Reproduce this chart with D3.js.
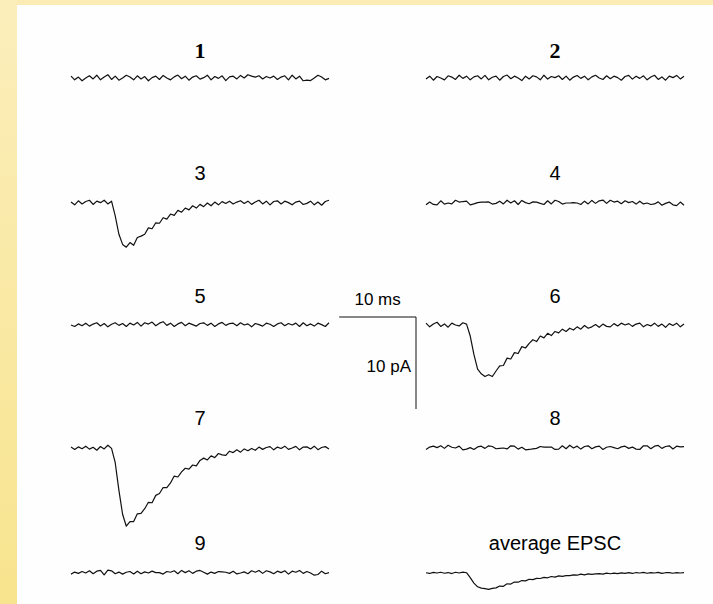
<!DOCTYPE html>
<html>
<head>
<meta charset="utf-8">
<script src="https://cdn.jsdelivr.net/npm/d3@7"></script>
<style>
  body { margin: 0; background: #fff; }
  svg { display: block; }
</style>
</head>
<body>
<script>

const svgWidth = 713;
const svgHeight = 604;

// Data: current (pA) sampled every sampleMs, one array per sweep
const sampleMs = 0.48;
const panelLabels = ["1", "2", "3", "4", "5", "6", "7", "8", "9", "average EPSC"];
const scaleBarMs = 10;
const scaleBarPA = 10;

const trace1 = [0.20,-0.20,0.10,-0.30,0.00,0.24,-0.10,0.30,-0.20,0.10,
  0.36,-0.16,0.20,-0.24,0.00,0.30,0.10,-0.20,0.24,-0.10,
  0.16,-0.30,0.04,0.20,-0.16,0.28,0.00,-0.20,0.12,0.32,
  -0.08,0.20,-0.24,0.10,0.24,-0.12,0.04,0.30,-0.20,0.16,
  -0.04,0.24,-0.28,0.12,0.20,-0.10,0.28,0.00,0.36,0.20,
  0.10,0.24,-0.10,0.16,0.00,0.20,-0.16,0.10,0.24,-0.20,
  0.30,-0.10,0.20,-0.30,-0.24,-0.28,0.00,0.30,0.10,-0.20,
  -0.04];
const trace2 = [-0.10,0.20,-0.24,0.16,0.00,-0.20,0.24,0.10,-0.16,0.30,
  -0.04,0.20,-0.20,0.12,0.24,-0.10,0.28,-0.20,0.08,0.20,
  -0.24,0.16,0.32,-0.08,0.20,0.00,-0.28,0.20,-0.10,0.24,
  0.12,-0.20,0.30,-0.12,0.16,0.04,0.24,-0.16,0.20,-0.24,
  0.10,0.28,-0.04,0.20,-0.20,0.12,0.30,0.00,-0.16,0.24,
  -0.08,0.20,0.04,-0.24,0.16,0.28,-0.12,0.20,-0.04,0.24,
  -0.20,0.10,0.30,-0.16,0.12,-0.24,0.20,0.04,0.28,-0.10,
  0.20];
const trace3 = [0.10,-0.20,0.24,-0.10,0.16,0.30,-0.16,0.20,0.04,0.30,
  -0.10,0.20,-1.4,-3.4,-4.5,-4.8,-4.3,-4.6,-3.75,-3.6,
  -3.4,-2.7,-2.8,-2.15,-2.2,-1.6,-1.75,-1.2,-1.35,-0.8,
  -1.0,-0.55,-0.75,-0.3,-0.55,-0.15,-0.4,0.0,-0.3,0.1,
  -0.2,0.15,-0.05,0.2,-0.1,0.1,0.25,-0.05,0.2,-0.15,
  0.1,0.3,-0.1,0.2,-0.2,0.16,0.24,-0.1,0.2,0.04,
  -0.2,0.1,0.2,-0.16,-0.04,0.2,-0.2,0.1,-0.24,0.16,
  0.3];
const trace4 = [-0.20,0.10,-0.16,-0.20,0.24,-0.12,0.00,-0.10,0.30,0.10,
  0.16,0.20,-0.20,-0.10,0.04,0.10,0.10,0.12,-0.12,-0.04,
  0.20,-0.10,0.30,0.00,0.24,-0.16,0.28,0.04,-0.08,0.12,
  0.10,-0.04,-0.16,0.24,-0.10,0.30,0.16,-0.12,0.00,0.00,
  0.04,0.00,-0.16,0.20,-0.10,0.28,-0.04,0.24,0.32,-0.04,
  0.30,0.10,0.20,-0.08,0.24,0.04,0.16,-0.12,0.20,-0.10,
  0.00,-0.16,-0.10,0.12,-0.24,-0.04,0.10,-0.20,-0.28,0.10,
  -0.24];
const trace5 = [0.00,-0.16,0.12,-0.08,0.20,-0.12,0.10,0.24,-0.10,0.16,
  -0.20,0.08,0.24,-0.04,0.16,-0.16,0.20,0.00,0.28,-0.12,
  0.24,0.10,0.32,-0.08,0.20,0.36,-0.04,0.20,-0.16,0.12,
  0.28,-0.08,0.20,0.04,-0.12,0.16,0.24,-0.04,0.20,-0.16,
  0.12,0.28,-0.04,0.16,0.20,-0.08,0.24,0.00,0.12,-0.20,
  0.16,0.04,-0.12,0.20,0.08,-0.16,0.12,0.24,-0.08,0.16,
  0.00,0.20,-0.16,0.24,-0.08,0.12,-0.12,0.20,0.04,-0.16,
  0.24];
const trace6 = [0.20,-0.20,0.10,0.30,-0.16,0.12,-0.24,0.20,0.00,-0.10,
  0.24,0.10,-1.2,-3.2,-4.8,-5.3,-5.6,-5.4,-5.6,-5.0,
  -4.45,-4.4,-3.6,-3.7,-3.0,-3.1,-2.35,-2.5,-2.0,-1.6,
  -1.8,-1.2,-1.4,-0.9,-1.15,-0.7,-0.85,-0.45,-0.7,-0.35,
  -0.55,-0.2,-0.45,-0.05,-0.35,-0.2,0.05,-0.25,0.1,-0.15,
  -0.2,0.15,-0.1,0.2,0.0,0.15,-0.15,0.1,0.2,-0.2,
  0.05,-0.1,0.2,-0.15,0.1,-0.25,0.15,-0.05,0.2,-0.2,
  0.1];
const trace7 = [0.10,-0.16,0.12,-0.08,0.20,-0.12,0.08,-0.24,0.16,-0.10,
  0.30,-0.04,-1.6,-4.6,-7.2,-8.5,-8.0,-8.0,-7.15,-7.1,
  -6.6,-5.9,-5.95,-5.15,-4.95,-4.3,-4.3,-3.8,-3.05,-3.15,
  -2.6,-2.2,-2.3,-1.85,-1.95,-1.35,-1.1,-1.3,-0.85,-1.05,
  -0.6,-0.75,-0.8,-0.35,-0.5,-0.2,-0.45,-0.1,-0.3,-0.05,
  -0.25,0.1,-0.15,0.05,0.15,-0.2,0.1,-0.05,0.2,-0.15,
  0.0,0.18,-0.2,0.1,0.12,-0.1,0.2,-0.18,0.05,0.15,
  -0.1];
const trace8 = [-0.16,0.10,0.20,0.04,0.24,-0.04,0.30,0.08,0.00,0.20,
  -0.20,-0.12,0.04,-0.16,0.12,0.20,-0.04,0.24,0.16,-0.08,
  -0.04,0.00,-0.10,0.24,0.20,-0.12,0.08,-0.20,-0.16,-0.10,
  -0.04,0.16,0.10,0.10,0.10,-0.16,-0.12,0.24,-0.08,0.30,
  0.00,0.20,-0.12,0.16,0.24,-0.08,0.12,0.20,-0.16,0.08,
  0.16,0.04,-0.08,0.12,0.20,-0.04,0.10,-0.12,-0.16,0.24,
  0.24,-0.08,0.20,0.28,-0.04,0.16,0.24,-0.10,0.20,0.12,
  0.16];
const trace9 = [-0.12,0.10,-0.04,0.16,0.00,0.24,-0.08,0.20,0.28,-0.20,
  0.32,0.24,-0.08,0.10,-0.12,0.08,0.16,-0.10,0.20,-0.08,
  0.12,0.00,0.20,0.04,0.04,-0.12,0.16,0.08,0.24,-0.08,
  0.28,0.04,0.24,-0.04,0.20,0.28,0.08,-0.12,0.10,-0.04,
  0.16,0.12,0.08,-0.04,0.20,-0.10,0.00,0.12,-0.08,0.24,
  0.08,0.28,-0.04,0.24,0.12,-0.08,0.20,0.04,0.24,-0.12,
  0.20,0.08,0.28,-0.04,0.16,0.00,-0.24,-0.16,0.20,-0.08,
  0.04];
const averageEPSC = [0.03,-0.05,0.06,0.00,0.08,-0.03,0.05,-0.06,0.08,0.00,
  0.09,0.03,-0.5,-1.1,-1.5,-1.65,-1.7,-1.78,-1.68,-1.62,
  -1.42,-1.45,-1.18,-1.2,-0.98,-1.0,-0.82,-0.86,-0.68,-0.72,
  -0.58,-0.6,-0.48,-0.52,-0.38,-0.45,-0.32,-0.36,-0.28,-0.28,
  -0.2,-0.24,-0.12,-0.2,-0.1,-0.14,-0.1,-0.06,-0.12,-0.02,
  -0.08,-0.02,-0.07,0.02,-0.04,0.04,-0.05,0.05,0.0,0.06,
  -0.03,0.05,0.0,0.06,-0.04,0.03,0.05,-0.03,0.04,0.0,
  0.04];

const traces = [trace1, trace2, trace3, trace4, trace5, trace6, trace7, trace8, trace9, averageEPSC];

// layout
const traceWidth = 258;
const columnX = [71, 426];
const rowBaseline = [78, 203, 325, 448, 573];
const rowLabelY = [58, 180, 303, 425, 550];

const svg = d3
   .select("body")
   .append("svg")
   .attr("width", svgWidth)
   .attr("height", svgHeight);

// page background: yellow strips on top and left
const defs = svg.append("defs");
const grad = defs.append("linearGradient")
   .attr("id", "leftStrip")
   .attr("x1", 0).attr("y1", 0).attr("x2", 0).attr("y2", 1);
grad.append("stop").attr("offset", "0%").attr("stop-color", "#fbeebb");
grad.append("stop").attr("offset", "100%").attr("stop-color", "#f8e48e");

svg.append("rect")
   .attr("width", svgWidth).attr("height", svgHeight)
   .attr("fill", "#fefefe");
svg.append("rect")
   .attr("width", svgWidth).attr("height", 5)
   .attr("fill", "#fbecb5");
svg.append("rect")
   .attr("width", 17).attr("height", svgHeight)
   .attr("fill", "url(#leftStrip)");

// scales shared by every sweep
const nSamples = trace1.length;
const xScale = d3.scaleLinear()
   .domain([0, (nSamples - 1) * sampleMs])
   .range([0, traceWidth]);

const yScale = d3.scaleLinear()
   .domain([0, -scaleBarPA])
   .range([0, 92]);

const line = d3.line()
   .x((d, i) => xScale(i * sampleMs))
   .y(d => yScale(d));

traces.forEach((values, k) => {
    const col = k % 2;
    const row = Math.floor(k / 2);
    const g = svg.append("g")
       .attr("transform", `translate(${columnX[col]}, ${rowBaseline[row]})`);

    g.append("path")
       .datum(values)
       .attr("d", line)
       .attr("fill", "none")
       .attr("stroke", "#111")
       .attr("stroke-width", 1.2)
       .attr("stroke-linejoin", "round");

    // first row uses a serif face like the original figure
    const serif = row === 0;
    svg.append("text")
       .attr("x", columnX[col] + traceWidth / 2)
       .attr("y", rowLabelY[row])
       .attr("text-anchor", "middle")
       .attr("font-family", serif ? "Liberation Serif, serif" : "Liberation Sans, sans-serif")
       .attr("font-weight", serif ? "bold" : "normal")
       .attr("font-size", serif ? 22 : 20)
       .attr("fill", "#000")
       .text(panelLabels[k]);
});

// scale bar
const barX = 416;
const barY = 317;
const barLen = xScale(scaleBarMs) - xScale(0);
const barH = yScale(-scaleBarPA) - yScale(0);

const bar = svg.append("g");
bar.append("line")
   .attr("x1", barX - barLen).attr("x2", barX)
   .attr("y1", barY).attr("y2", barY)
   .attr("stroke", "#111").attr("stroke-width", 1);
bar.append("line")
   .attr("x1", barX).attr("x2", barX)
   .attr("y1", barY).attr("y2", barY + barH)
   .attr("stroke", "#111").attr("stroke-width", 1);

bar.append("text")
   .attr("x", barX - barLen / 2)
   .attr("y", barY - 12)
   .attr("text-anchor", "middle")
   .attr("font-family", "Liberation Sans, sans-serif")
   .attr("font-size", 17)
   .attr("fill", "#000")
   .text(`${scaleBarMs} ms`);

bar.append("text")
   .attr("x", barX - 5)
   .attr("y", barY + 55)
   .attr("text-anchor", "end")
   .attr("font-family", "Liberation Sans, sans-serif")
   .attr("font-size", 17)
   .attr("fill", "#000")
   .text(`${scaleBarPA} pA`);

</script>
</body>
</html>
